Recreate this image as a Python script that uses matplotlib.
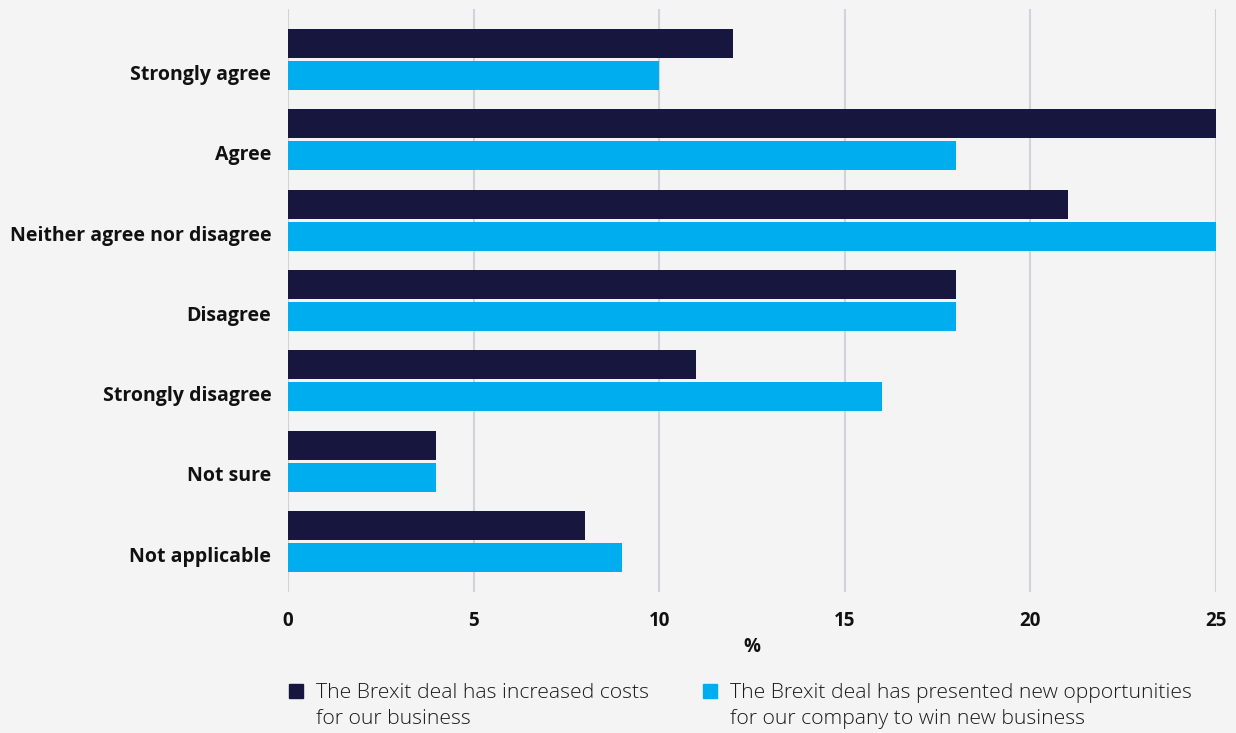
import numpy as np
import matplotlib
matplotlib.use("Agg")
import matplotlib.pyplot as plt
from matplotlib.patches import Rectangle

categories = ["Strongly agree", "Agree", "Neither agree nor disagree", "Disagree",
              "Strongly disagree", "Not sure", "Not applicable"]
increased_costs = [12, 25, 21, 18, 11, 4, 8]
new_opportunities = [10, 18, 25, 18, 16, 4, 9]
series_names = ["The Brexit deal has increased costs\nfor our business",
                "The Brexit deal has presented new opportunities\nfor our company to win new business"]
x_ticks = [0, 5, 10, 15, 20, 25]

navy = '#16163f'
cyan = '#00aeef'
bg = '#f4f4f4'

plt.rcParams['font.family'] = ['Open Sans', 'DejaVu Sans']

W, H = 1236, 733
fig = plt.figure(figsize=(W / 100, H / 100), dpi=100, facecolor=bg)
ax = fig.add_axes([288 / W, 141 / H, 928 / W, 583 / H], facecolor=bg)

pos = np.arange(len(categories))
bar_h = 0.361
offset = 0.199
ax.barh(pos - offset, increased_costs, height=bar_h, color=navy, zorder=3)
ax.barh(pos + offset, new_opportunities, height=bar_h, color=cyan, zorder=3)

ax.set_xlim(0, 25)
ax.set_ylim(6.63, -0.63)
ax.set_xticks(x_ticks)
ax.set_xticklabels([str(t) for t in x_ticks], fontsize=13.5, fontweight='bold', color='#111111')
ax.set_yticks(pos + 0.16)
ax.set_yticklabels(categories, fontsize=14, fontweight='bold', color='#111111')
ax.tick_params(axis='x', length=0, pad=14)
ax.tick_params(axis='y', length=0, pad=12)
ax.grid(axis='x', color='#d2d2da', lw=1.5, zorder=0)
ax.set_axisbelow(True)
for s in ax.spines.values():
    s.set_visible(False)
ax.set_xlabel('%', fontsize=13.5, fontweight='bold', color='#111111', labelpad=4)

# legend drawn by hand so the swatch sits beside the first line of each label
for name, color, x0 in zip(series_names, [navy, cyan], [289, 703]):
    fig.patches.append(Rectangle((x0 / W, 1 - 698 / H), 14 / W, 14 / H,
                                 transform=fig.transFigure, color=color))
    fig.text((x0 + 27) / W, 1 - 683 / H, name, fontsize=15.2, fontweight='light',
             color='#1a1a1a', va='top', ha='left', linespacing=1.42)

fig.savefig('out.png', dpi=100, facecolor=bg)
